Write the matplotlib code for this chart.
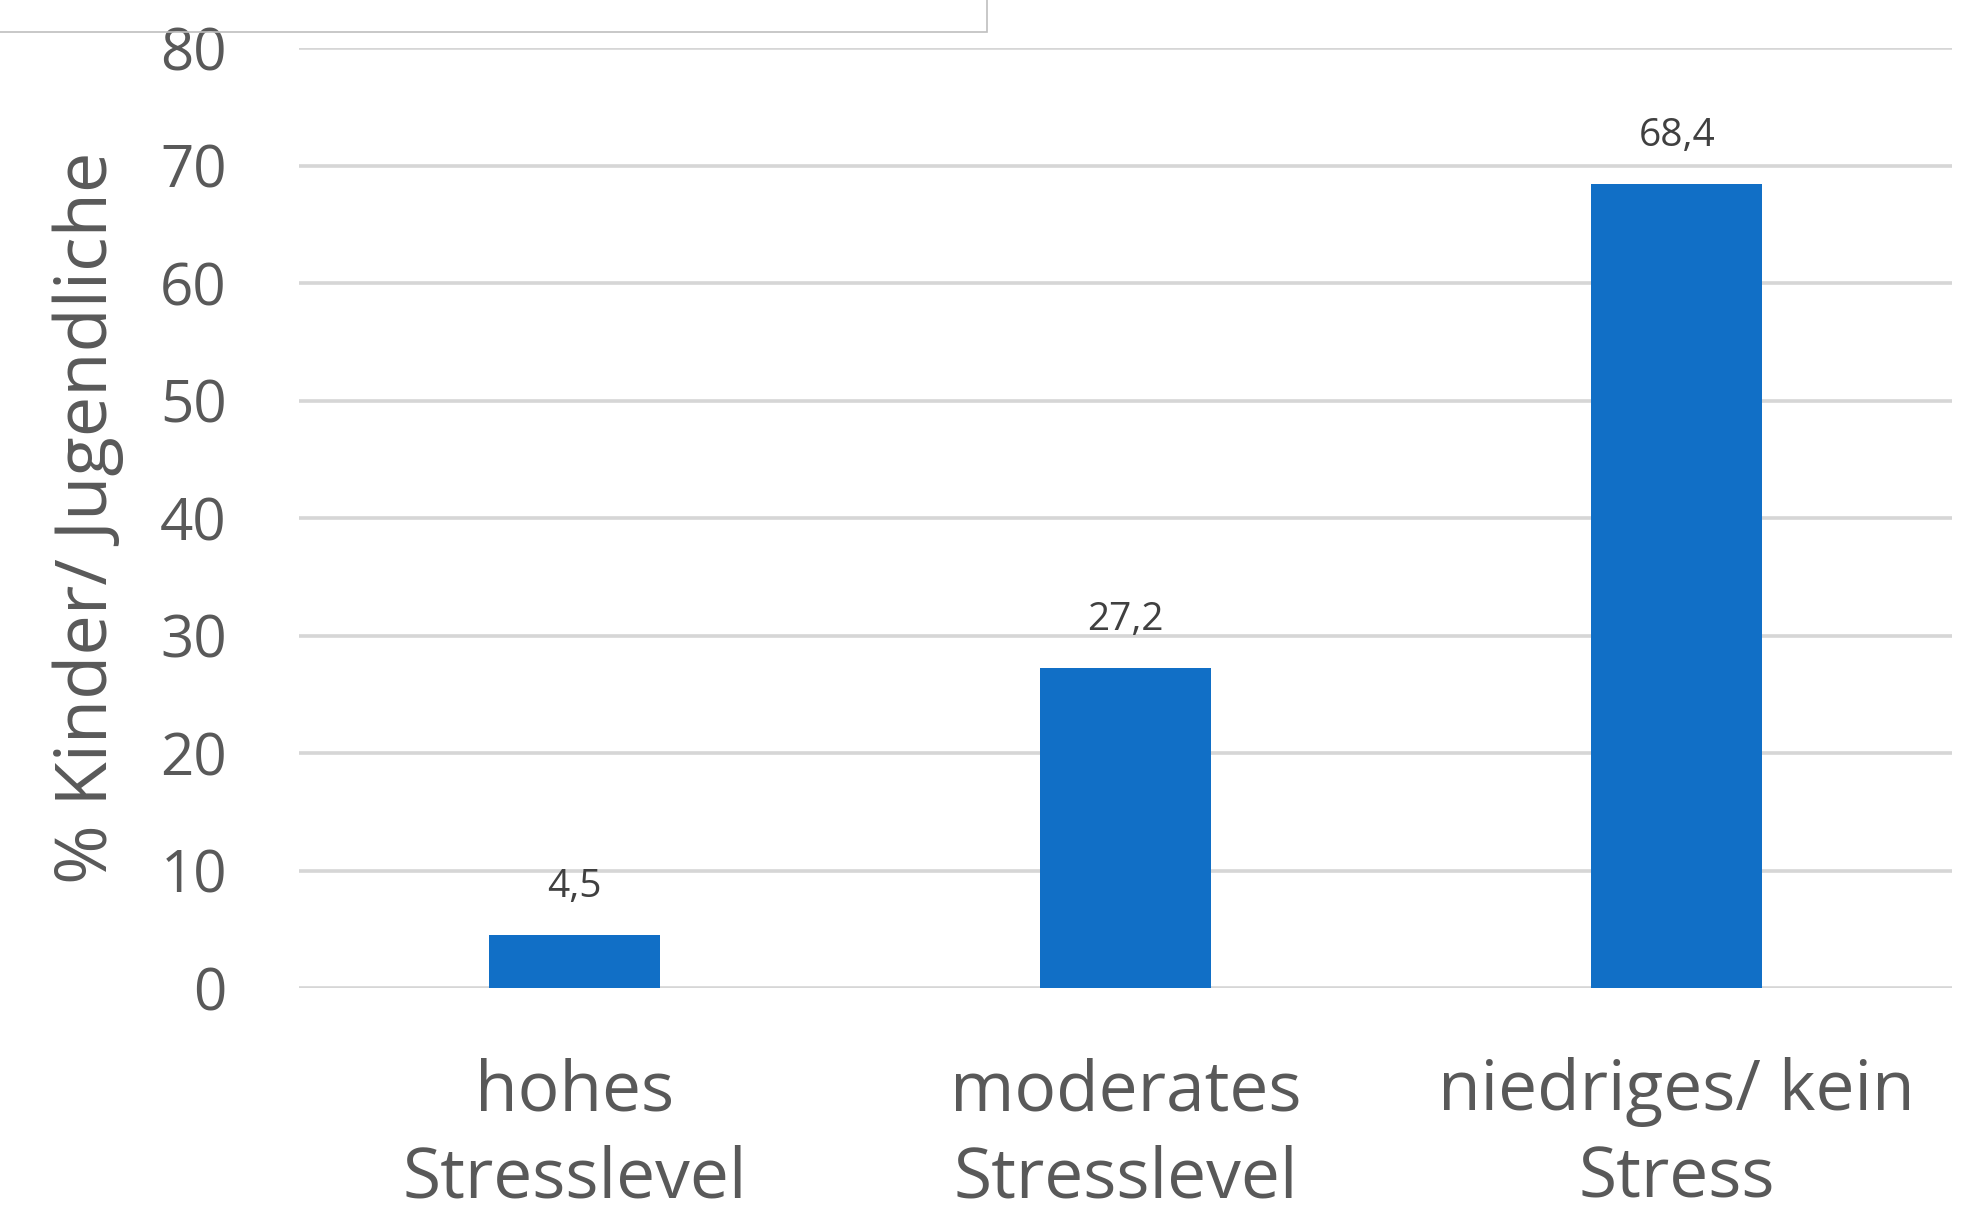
import matplotlib
matplotlib.use("Agg")
import matplotlib.pyplot as plt
from matplotlib.patches import Rectangle

# Stress levels of children / adolescents
categories = ["hohes\nStresslevel", "moderates\nStresslevel", "niedriges/ kein\nStress"]
values = [4.5, 27.2, 68.4]
value_labels = ["4,5", "27,2", "68,4"]
y_ticks = [0, 10, 20, 30, 40, 50, 60, 70, 80]

plt.rcParams["font.family"] = ["Open Sans", "DejaVu Sans"]

text_col = "#595959"
bar_col = "#116fc6"
grid_col = "#d6d6d6"

fig = plt.figure(figsize=(19.68, 12.19), dpi=100)
ax = fig.add_axes([0.152, 0.1895, 0.84, 0.7711])

x = range(len(categories))
ax.bar(x, values, width=0.31, color=bar_col, zorder=3)

for xi, v, lab in zip(x, values, value_labels):
    ax.annotate(lab, (xi, v), xytext=(0, 35), textcoords="offset points",
                ha="center", va="center", fontsize=28, color="#404040")

ax.set_xlim(-0.5, 2.5)
ax.set_ylim(0, 80)
ax.set_yticks(y_ticks)
ax.set_yticklabels([str(t) for t in y_ticks], fontsize=42, color=text_col)
ax.set_xticks(list(x))
ax.set_xticklabels(categories, fontsize=50, color=text_col, linespacing=1.33)
ax.tick_params(axis="y", length=0, pad=52)
ax.tick_params(axis="x", length=0, pad=50)

ax.grid(axis="y", color=grid_col, linewidth=2.6, zorder=0)
for s in ax.spines.values():
    s.set_visible(False)

ax.set_ylabel("% Kinder/ Jugendliche", fontsize=52, color=text_col, labelpad=26)

# outline of the box cut at the top edge
fig.patches.append(Rectangle((-0.01, 1 - 32 / 1219), 0.5115, 0.05,
                             transform=fig.transFigure, fill=False,
                             edgecolor="#bfbfbf", linewidth=1.2))

fig.savefig("out.png", dpi=100, facecolor="white")
